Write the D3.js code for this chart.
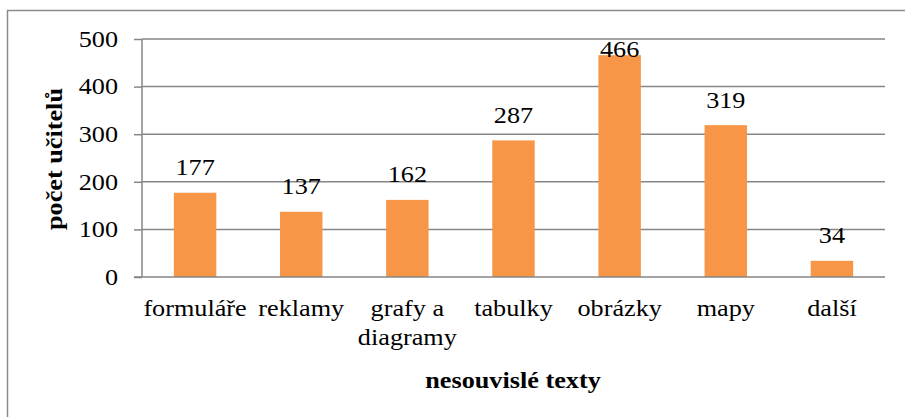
<!DOCTYPE html>
<html>
<head>
<meta charset="utf-8">
<script src="https://cdn.jsdelivr.net/npm/d3@7"></script>
<style>
  body { margin: 0; background: #fff; }
</style>
</head>
<body>
<div id="vis"></div>
<script>
const width = 905;
const height = 417;

// Data
const categories = ["formuláře", "reklamy", "grafy a diagramy", "tabulky", "obrázky", "mapy", "další"];
const values = [177, 137, 162, 287, 466, 319, 34];
const yTicks = [0, 100, 200, 300, 400, 500];

const FONT = "'Liberation Serif', 'Times New Roman', 'DejaVu Serif', serif";
const FS = 23;        // font size
const SX = 1.14;      // the original text is a bit wide
const plotLeft = 142, plotRight = 885, plotTop = 39, plotBottom = 277;

const svg = d3.select("#vis")
    .append("svg")
    .attr("width", width)
    .attr("height", height);

// place a text with horizontal stretch
function label(g, x, y, txt, opts = {}) {
    const t = g.append("text")
        .attr("transform", `translate(${x},${y})${opts.rotate ? " rotate(" + opts.rotate + ")" : ""} scale(${SX},1)`)
        .attr("text-anchor", opts.anchor || "middle")
        .style("font-family", FONT)
        .style("font-size", FS + "px")
        .style("font-weight", opts.bold ? "bold" : "normal")
        .style("fill", "#000")
        .text(txt);
    if (opts.dy) t.attr("dy", opts.dy);
    return t;
}

// chart border (only top/left fall inside the picture)
svg.append("rect")
    .attr("x", 7.5).attr("y", 10.5)
    .attr("width", width + 20).attr("height", height + 20)
    .attr("fill", "#fff")
    .attr("stroke", "#8c8c8c")
    .attr("stroke-width", 1.5);

const x = d3.scaleBand()
    .domain(categories)
    .range([plotLeft, plotRight])
    .padding(0);

const y = d3.scaleLinear()
    .domain([0, 500])
    .range([plotBottom, plotTop]);

// tick marks on the value axis
const yAxis = svg.append("g")
    .attr("transform", `translate(${plotLeft},0)`)
    .call(d3.axisLeft(y).tickValues(yTicks).tickSize(8).tickFormat(""));
yAxis.select(".domain").remove();
yAxis.selectAll("line").attr("stroke", "#868686").attr("stroke-width", 1.5);

// tick labels
const tickG = svg.append("g");
yTicks.forEach(v => label(tickG, 118, y(v), v, { anchor: "end", dy: "0.34em" }));

// gridlines
svg.append("g")
    .selectAll("line")
    .data(yTicks.filter(d => d > 0))
    .enter().append("line")
    .attr("x1", plotLeft).attr("x2", plotRight)
    .attr("y1", d => y(d)).attr("y2", d => y(d))
    .attr("stroke", "#868686")
    .attr("stroke-width", 1.5);

// bars
const barW = x.bandwidth() * 0.4;
svg.append("g")
    .selectAll("rect")
    .data(values)
    .enter().append("rect")
    .attr("x", (d, i) => x(categories[i]) + (x.bandwidth() - barW) / 2)
    .attr("y", d => y(d))
    .attr("width", barW)
    .attr("height", d => y(0) - y(d))
    .attr("fill", "#F79646");

// axis lines
svg.append("line")
    .attr("x1", plotLeft).attr("x2", plotLeft)
    .attr("y1", plotTop).attr("y2", plotBottom)
    .attr("stroke", "#868686").attr("stroke-width", 1.5);
svg.append("line")
    .attr("x1", plotLeft - 8).attr("x2", plotRight)
    .attr("y1", plotBottom).attr("y2", plotBottom)
    .attr("stroke", "#868686").attr("stroke-width", 1.5);

// value labels (kept inside plot area like Excel)
const valG = svg.append("g");
values.forEach((v, i) => {
    label(valG, x(categories[i]) + x.bandwidth() / 2, Math.max(y(v) - 17.5, plotTop + 18), v);
});

// category labels
const catLines = {"grafy a diagramy": ["grafy a", "diagramy"]};
const catG = svg.append("g");
categories.forEach(c => {
    const lines = catLines[c] || [c];
    lines.forEach((l, j) => label(catG, x(c) + x.bandwidth() / 2, 316 + j * 29, l));
});

// axis titles
label(svg, 513, 388, "nesouvislé texty", { bold: true });
label(svg, 62, 159, "počet učitelů", { bold: true, rotate: -90 });
</script>
</body>
</html>
